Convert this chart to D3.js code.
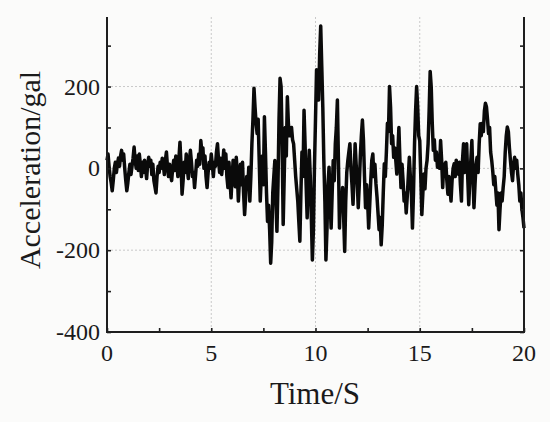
<!DOCTYPE html>
<html>
<head>
<meta charset="utf-8">
<script src="https://cdn.jsdelivr.net/npm/d3@7"></script>
<style>
  html, body { margin: 0; padding: 0; background: #fbfbfa; }
  svg { display: block; }
</style>
</head>
<body>
<svg id="chart" width="550" height="422"></svg>
<script>
// ---- data ----
const sampleStep = 0.05; // seconds between samples
const accel = [
  // 0 s
  20, 35, 5, -20, -35, -55, -30, 0, 15, -10, 10, 25, 5, 30, 44, 20, 35, 0, -30, -55,
  // 1 s
  -35, -10, 10, -15, 5, 25, 52, 20, 0, 30, -5, 35, 10, -20, 15, -10, 20, 0, -25, 10,
  // 2 s
  27, 5, 20, -15, 10, -30, -45, -60, -20, 5, -10, 15, 0, 25, 10, -15, 20, 40, 5, -20,
  // 3 s
  10, -15, -30, 0, 20, -5, 30, 10, -20, 25, 64, 10, -63, -30, 15, -10, 35, 0, -25, 20,
  // 4 s
  44, 15, -20, -10, -47, -15, 20, 5, 35, 10, 68, 40, 50, 0, 30, -20, -47, -10, 15, 0,
  // 5 s
  35, 10, -20, 15, 5, 40, 60, 20, -10, 25, -15, 10, 45, 0, 35, -20, -47, 15, -30, -72,
  // 6 s
  -20, 20, 0, -45, 27, -10, -80, -30, 10, -40, 15, -60, -113, -70, -20, -50, 3, -80, -20, 60,
  // 7 s
  120, 196, 150, 110, 85, 120, 20, -80, -20, 30, -40, 126, 40, -60, -130, -90, -150, -232, -180, -60,
  // 8 s
  -20, 19, -80, -154, -40, 120, 220, 200, 60, -137, -20, 100, 30, 175, 110, 80, 93, 100, 70, 60,
  // 9 s
  20, -20, -50, -80, -130, -178, -60, 40, -20, 142, 60, -40, -121, -30, 44, -20, -120, -224, -150, 3,
  // 10 s
  120, 241, 200, 167, 280, 348, 250, 150, 19, -80, -224, -150, -40, 3, -80, -146, -60, 19, -30, 60,
  // 11 s
  100, 167, 20, -146, -60, -100, -47, -120, -203, -80, -10, 19, 40, 60, 0, -40, -88, -20, 60, 10,
  // 12 s
  -30, -96, -40, 30, 80, 118, 70, -20, -96, -40, -80, -146, -90, -30, 20, 35, -20, 10, -38, -70,
  // 13 s
  -110, -150, -120, -187, -140, -60, 11, -20, 40, 110, 90, 200, 150, 60, 80, 27, 50, 20, -14, 40,
  // 14 s
  100, 20, -47, 10, -30, -80, -60, -109, -70, -20, 27, -20, -63, -146, -60, 60, 140, 200, 150, 80,
  // 15 s
  68, -20, -113, -60, -14, -50, 0, 19, 60, 140, 237, 200, 110, 44, 70, 20, 40, 3, 30, 0,
  // 16 s
  68, 20, -47, 10, -20, 15, -30, -63, -20, -50, -80, -30, 0, 11, -20, 20, -10, -14, 15, -40,
  // 17 s
  -80, 20, 60, -10, 30, 60, -20, -89, -30, 20, 68, -20, -96, -40, 10, 27, -10, 60, 109, 80,
  // 18 s
  110, 90, 140, 159, 150, 120, 85, 100, 40, 20, -6, -40, -20, -55, -90, -60, -150, -100, -60, -80,
  // 19 s
  -47, -20, 40, 80, 101, 90, 50, 19, -10, -30, 10, 27, 0, 20, -14, -40, -80, -60, -100, -120,
  // 20 s
  -146
];
const xTicks = [0, 5, 10, 15, 20];
const xMinorTicks = [2.5, 7.5, 12.5, 17.5];
const yTicks = [-400, -200, 0, 200];
const yMinorTicks = [-300, -100, 100, 300];
const xGrid = [5, 10, 15];
const yGrid = [-200, 0, 200];
const xTitle = "Time/S";
const yTitle = "Acceleration/gal";

// ---- layout ----
const svg = d3.select("#chart");
const pLeft = 107, pRight = 524, pTop = 17, pBottom = 332;
const x = d3.scaleLinear().domain([0, 20]).range([pLeft, pRight]);
const y = d3.scaleLinear().domain([-400, 370]).range([pBottom, pTop]);
const font = "'Liberation Serif', 'Times New Roman', serif";
const axisColor = "#1e1e1e";
const textColor = "#1a1a1a";

// grid
const grid = svg.append("g");
grid.selectAll("line.gx").data(xGrid).enter().append("line")
  .attr("x1", d => x(d)).attr("x2", d => x(d))
  .attr("y1", pTop).attr("y2", pBottom)
  .attr("stroke", "#c9c9c9").attr("stroke-width", 1).attr("stroke-dasharray", "2,2");
grid.selectAll("line.gy").data(yGrid).enter().append("line")
  .attr("x1", pLeft).attr("x2", pRight)
  .attr("y1", d => y(d)).attr("y2", d => y(d))
  .attr("stroke", "#c9c9c9").attr("stroke-width", 1).attr("stroke-dasharray", "2,2");

// data line
const line = d3.line()
  .x((d, i) => x(i * sampleStep))
  .y(d => y(d));
svg.append("path")
  .datum(accel)
  .attr("d", line)
  .attr("fill", "none")
  .attr("stroke", "#0a0a0a")
  .attr("stroke-width", 3.5)
  .attr("stroke-linejoin", "round");

// axes
const tickLen = 4;
const allY = yTicks.concat(yMinorTicks);
const allX = xTicks.concat(xMinorTicks);

const gL = svg.append("g").attr("transform", `translate(${pLeft},0)`)
  .call(d3.axisLeft(y).tickValues(allY).tickSize(-tickLen).tickFormat(""));
const gR = svg.append("g").attr("transform", `translate(${pRight},0)`)
  .call(d3.axisRight(y).tickValues(allY).tickSize(-tickLen).tickFormat(""));
const gB = svg.append("g").attr("transform", `translate(0,${pBottom})`)
  .call(d3.axisBottom(x).tickValues(allX).tickSize(-tickLen).tickFormat(""));
[gL, gR, gB].forEach(g => {
  g.select(".domain").attr("stroke", axisColor).attr("stroke-width", 2);
  g.selectAll(".tick line").attr("stroke", axisColor).attr("stroke-width", 1.6);
});
gL.select(".domain").attr("d", `M0,${pTop}V${pBottom}`);
gR.select(".domain").attr("d", `M0,${pTop}V${pBottom}`);
gB.select(".domain").attr("d", `M${pLeft - 1},0H${pRight + 1}`);

// tick labels
svg.append("g").selectAll("text").data(yTicks).enter().append("text")
  .attr("x", 100).attr("y", d => y(d))
  .attr("text-anchor", "end").attr("dominant-baseline", "central")
  .attr("font-family", font).attr("font-size", 24).attr("fill", textColor)
  .text(d => d);
svg.append("g").selectAll("text").data(xTicks).enter().append("text")
  .attr("x", d => x(d)).attr("y", 353)
  .attr("text-anchor", "middle").attr("dominant-baseline", "central")
  .attr("font-family", font).attr("font-size", 24).attr("fill", textColor)
  .text(d => d);

// titles
svg.append("text")
  .attr("x", 315).attr("y", 393)
  .attr("text-anchor", "middle").attr("dominant-baseline", "central")
  .attr("font-family", font).attr("font-size", 31).attr("fill", textColor)
  .text(xTitle);
svg.append("text")
  .attr("transform", "translate(29,170) rotate(-90)")
  .attr("text-anchor", "middle").attr("dominant-baseline", "central")
  .attr("font-family", font).attr("font-size", 30).attr("fill", textColor)
  .text(yTitle);
</script>
</body>
</html>
